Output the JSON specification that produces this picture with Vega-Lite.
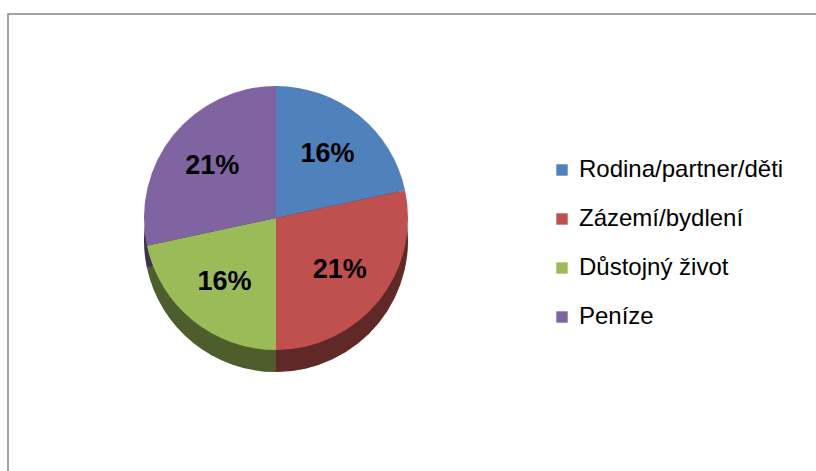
{
  "$schema": "https://vega.github.io/schema/vega-lite/v6.json",
  "width": 810,
  "height": 458,
  "autosize": {"type": "none"},
  "padding": {"left": 8, "top": 14, "right": 0, "bottom": 0},
  "background": "white",
  "view": {"stroke": "#888888", "strokeWidth": 1.5},
  "config": {"view": {"stroke": "#888888", "strokeWidth": 1.5}},
  "data": {
    "values": [
      {"category": "Rodina/partner/děti", "value": 16, "label": "16%", "order": 1},
      {"category": "Zázemí/bydlení", "value": 21, "label": "21%", "order": 2},
      {"category": "Důstojný život", "value": 16, "label": "16%", "order": 3},
      {"category": "Peníze", "value": 21, "label": "21%", "order": 4}
    ]
  },
  "encoding": {
    "theta": {"field": "value", "type": "quantitative", "stack": true},
    "order": {"field": "order", "type": "quantitative"}
  },
  "layer": [
    {
      "mark": {"type": "arc", "x": 268, "y": 226, "outerRadius": 132},
      "encoding": {
        "color": {
          "field": "category",
          "type": "nominal",
          "sort": ["Rodina/partner/děti", "Zázemí/bydlení", "Důstojný život", "Peníze"],
          "scale": {
            "domain": ["Rodina/partner/děti", "Zázemí/bydlení", "Důstojný život", "Peníze"],
            "range": ["#4F81BD", "#C0504D", "#9BBB59", "#8064A2"]
          },
          "legend": {
            "title": null,
            "orient": "none",
            "legendX": 542,
            "legendY": 144,
            "symbolType": "square",
            "symbolSize": 130,
            "symbolStrokeWidth": 0,
            "labelFont": "Liberation Sans",
            "labelFontSize": 24,
            "labelColor": "#000000",
            "labelLimit": 300,
            "labelOffset": 5,
            "rowPadding": 25
          }
        }
      }
    },
    {
      "mark": {"type": "arc", "x": 268, "y": 226, "outerRadius": 132, "opacity": 0.5},
      "encoding": {"color": {"value": "#000000"}}
    },
    {
      "mark": {"type": "arc", "x": 268, "y": 204, "outerRadius": 132},
      "encoding": {
        "color": {"field": "category", "type": "nominal", "sort": ["Rodina/partner/děti", "Zázemí/bydlení", "Důstojný život", "Peníze"]}
      }
    },
    {
      "mark": {"type": "text", "x": 268, "y": 204, "radius": 82, "font": "Liberation Sans", "fontSize": 27, "fontWeight": "bold", "fill": "#000000"},
      "encoding": {"text": {"field": "label", "type": "nominal"}}
    }
  ]
}
